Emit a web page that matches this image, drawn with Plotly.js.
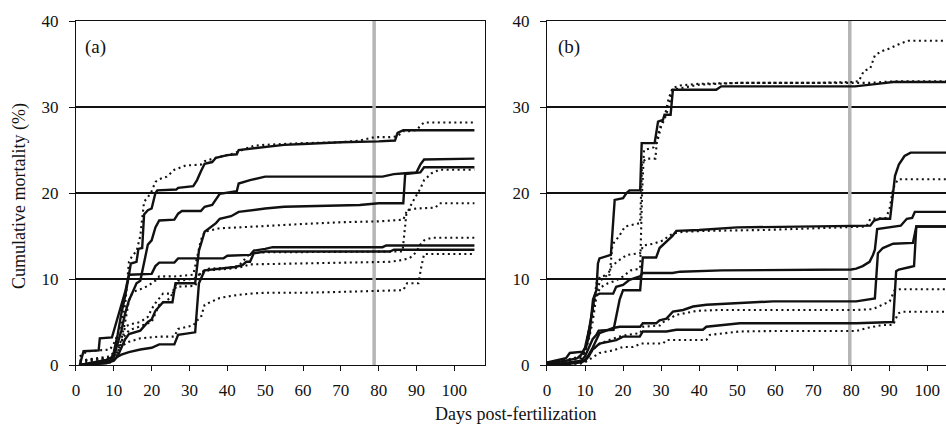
<!DOCTYPE html>
<html>
<head>
<meta charset="utf-8">
<script src="https://cdn.plot.ly/plotly-3.0.1.min.js"></script>
<style>html,body{margin:0;padding:0;background:#fff;}#chart{width:946px;height:426px;}</style>
</head>
<body>
<div id="chart"></div>
<script>
// ---------- Panel (a) ----------
var a_s1_day = [1, 2, 6, 6.3, 9.5, 10, 11, 12, 13, 14, 14.5, 16, 16.5, 17.5, 18, 19, 20, 21, 21.5, 26.5, 27, 31, 32, 33, 34, 36, 37, 40, 42.5, 43, 47, 50, 55, 60, 70, 80, 84.3, 85, 86.5, 105.3];
var a_s1_val = [0, 1.6, 1.7, 3.1, 3.2, 4.0, 5.5, 7.0, 8.5, 10.5, 11.8, 12.0, 13.5, 13.6, 17.5, 18.0, 18.2, 20.0, 20.3, 20.4, 20.6, 20.8, 21.5, 22.5, 23.4, 23.6, 24.1, 24.4, 24.5, 25.0, 25.2, 25.4, 25.6, 25.7, 25.9, 26.0, 26.1, 27.0, 27.3, 27.3];
var a_s2_day = [1, 5, 8, 10, 11, 12, 13, 14, 15, 16, 17, 18, 19, 20, 21, 22, 26, 27, 28, 33, 34, 36, 37, 38, 42.5, 43, 46, 50, 81, 84, 87, 90, 91, 92, 105.3];
var a_s2_val = [0, 0.3, 0.6, 1.0, 2.5, 4.0, 6.0, 7.5, 8.5, 9.5, 9.8, 12.0, 14.0, 14.5, 16.0, 16.8, 16.9, 17.6, 17.9, 17.9, 18.4, 18.6, 19.3, 19.9, 20.2, 21.1, 21.5, 21.9, 21.9, 22.2, 22.3, 22.4, 23.3, 23.9, 24.0];
var a_s3_day = [1, 8, 10, 11, 12, 13, 14, 17, 19, 20, 21, 22, 23, 25.5, 26.3, 31.5, 32.5, 34, 35, 37, 38, 41, 43, 46, 50, 55, 65, 75, 80, 86.5, 87, 91, 92, 105.3];
var a_s3_val = [0, 0.2, 0.5, 1.0, 2.0, 3.0, 3.6, 4.0, 5.0, 5.3, 6.3, 6.8, 7.3, 7.3, 9.5, 9.5, 13.3, 15.5, 15.8, 16.5, 17.0, 17.3, 17.8, 18.0, 18.2, 18.4, 18.5, 18.6, 18.8, 18.8, 22.2, 22.4, 23.0, 23.0];
var a_s4_day = [1, 9, 10, 11, 12, 13, 14, 20, 21, 22, 26, 27, 39, 40, 46, 47, 50, 52, 81, 82, 105.3];
var a_s4_val = [0, 0.3, 1.5, 3.5, 6.0, 8.0, 10.5, 10.6, 11.5, 11.9, 11.9, 12.4, 12.4, 12.7, 12.8, 13.3, 13.5, 13.7, 13.7, 13.9, 13.9];
var a_s5_day = [1, 5, 9, 11, 12, 14, 17, 20, 22, 26, 27, 31.5, 32.5, 34, 38, 42, 44, 45, 46, 47, 50, 83, 84, 105.3];
var a_s5_val = [0, 0.2, 0.5, 1.0, 1.2, 1.5, 1.8, 2.0, 2.4, 2.4, 3.5, 3.8, 9.5, 11.0, 11.2, 11.4, 11.6, 12.0, 12.0, 13.0, 13.2, 13.2, 13.4, 13.4];
var a_d1_day = [1, 2, 3, 9, 10, 11, 12, 13, 14, 15, 16, 17, 18, 19, 20, 21, 22, 24, 26, 29, 33, 34, 37, 41, 44, 47, 50, 60, 70, 75, 79, 83, 85, 86.5, 88, 90, 91, 92, 105.3];
var a_d1_val = [1.0, 1.3, 1.6, 1.8, 2.5, 3.5, 5.0, 7.0, 12.0, 12.8, 13.2, 15.0, 19.0, 19.5, 20.2, 21.3, 21.6, 21.9, 22.7, 23.2, 23.3, 23.7, 24.1, 24.5, 25.0, 25.5, 25.6, 25.8, 25.9, 26.1, 26.5, 26.5, 26.6, 27.2, 27.2, 27.3, 27.8, 28.2, 28.2];
var a_d2_day = [1, 9, 11, 12, 13, 14, 15, 17, 19, 21, 22, 26, 31, 32, 33, 34, 36, 38, 43, 50, 60, 70, 80, 86.5, 87.5, 90, 95, 96, 105.3];
var a_d2_val = [0.5, 0.8, 1.5, 3.0, 5.0, 7.5, 8.5, 8.8, 9.2, 9.8, 10.3, 10.3, 10.5, 12.5, 14.5, 15.5, 15.7, 15.9, 16.0, 16.2, 16.4, 16.6, 16.7, 16.9, 18.0, 18.2, 18.3, 18.8, 18.8];
var a_d3_day = [1, 10, 12, 13, 15, 17, 19, 20, 21, 23, 25.5, 26.5, 31.5, 33, 35, 40, 43, 44, 46, 50, 86.3, 87.3, 88, 89, 91, 92, 94, 96, 105.3];
var a_d3_val = [0.3, 0.6, 2.5, 4.5, 4.8, 5.0, 5.6, 6.5, 7.2, 8.3, 8.3, 9.1, 9.2, 10.8, 11.2, 11.3, 11.5, 12.0, 13.0, 13.1, 13.2, 17.5, 18.2, 19.0, 20.5, 21.5, 22.3, 22.7, 22.7];
var a_d4_day = [1, 9, 11, 12, 13, 14, 15, 17, 20, 21, 22, 25, 26, 27, 31, 32, 33, 35, 40, 43, 46, 60, 80, 83, 86, 88, 89, 90, 91, 92, 94, 105.3];
var a_d4_val = [0.5, 1.0, 2.0, 2.8, 3.5, 4.0, 4.2, 4.5, 5.0, 6.0, 7.0, 7.8, 9.0, 9.8, 10.0, 10.2, 10.8, 11.0, 11.2, 11.3, 11.7, 11.8, 11.9, 12.0, 12.2, 12.4, 12.7, 13.2, 14.0, 14.5, 14.8, 14.8];
var a_d5_day = [1, 9, 11, 13, 14, 17, 22, 26, 27, 31, 32, 33, 34, 36, 38, 42, 46, 50, 60, 70, 80, 86.5, 87.5, 90.5, 91.3, 92, 105.3];
var a_d5_val = [0.5, 0.8, 1.5, 2.5, 2.7, 3.1, 3.3, 3.3, 4.2, 4.6, 5.2, 5.5, 7.0, 7.4, 7.8, 8.1, 8.3, 8.4, 8.4, 8.5, 8.6, 8.7, 9.5, 9.5, 11.5, 12.9, 12.9];

// ---------- Panel (b) ----------
var b_s1_day = [0, 1, 5, 6, 9.5, 10.3, 11.2, 12.1, 13, 13.4, 13.8, 16.8, 17.4, 17.8, 20, 20.9, 21.7, 24.5, 24.9, 28.3, 29.2, 30.5, 30.9, 32.5, 33.1, 44.5, 45.8, 60, 81, 88, 91, 105];
var b_s1_val = [0.3, 0.4, 0.8, 1.4, 1.55, 2.1, 3.7, 7.6, 8.7, 11.8, 12.4, 12.8, 16.1, 19.2, 19.4, 20.0, 20.3, 20.3, 25.8, 25.8, 28.3, 28.5, 29.1, 29.1, 32.0, 32.0, 32.4, 32.4, 32.4, 32.75, 32.9, 32.9];
var b_s2_day = [0, 5, 9, 10, 11, 12, 13, 13.6, 17.5, 18.2, 19.1, 20, 24.5, 25.2, 28.7, 29.6, 31.4, 33, 34, 40, 50, 80, 85, 86, 87.5, 90.2, 91, 91.5, 92.5, 94, 95.6, 105];
var b_s2_val = [0, 0.2, 0.5, 1.0, 2.0, 3.0, 3.5, 4.0, 4.1, 5.6, 7.6, 8.7, 8.7, 12.5, 12.5, 13.6, 14.3, 15.0, 15.6, 15.7, 16.0, 16.1, 16.2, 16.8, 17.0, 17.0, 20.5, 22.0, 23.3, 24.3, 24.7, 24.7];
var b_s3_day = [0, 5, 8, 9, 10, 11, 12, 12.5, 13.8, 17.4, 18.2, 20, 21.7, 24.4, 25.2, 33, 35, 46, 80, 81.3, 83, 84.8, 85.7, 86.2, 86.8, 90, 93, 94.6, 96, 96.7, 105];
var b_s3_val = [0.2, 0.5, 0.8, 1.2, 2.0, 4.0, 6.5, 8.0, 8.3, 8.3, 9.1, 9.3, 9.9, 10.3, 10.7, 10.7, 10.85, 11.0, 11.1, 11.2, 11.5, 12.0, 12.8, 13.4, 15.8, 16.0, 16.2, 17.0, 17.1, 17.8, 17.8];
var b_s4_day = [0, 5, 9, 10, 11, 12, 13, 13.8, 17.4, 19.1, 24.5, 25.2, 28.7, 29.6, 31.4, 32.3, 33.1, 35.8, 38.4, 41.9, 50.7, 59.4, 81.3, 84, 86.2, 87, 88.3, 91, 96.2, 97.1, 105];
var b_s4_val = [0, 0.2, 0.4, 0.6, 1.2, 2.0, 3.0, 3.7, 4.3, 4.45, 4.45, 4.85, 4.85, 5.2, 5.4, 5.8, 6.2, 6.4, 6.8, 7.0, 7.2, 7.4, 7.4, 7.6, 7.75, 13.0, 13.6, 14.1, 14.2, 16.1, 16.1];
var b_s5_day = [0, 5, 9, 10, 11, 12, 13.8, 18.2, 20, 24.4, 25.2, 31.4, 34, 41, 41.9, 46.3, 50.7, 81.3, 91, 91.8, 92.5, 95.5, 96.5, 97.1, 105];
var b_s5_val = [0, 0.1, 0.3, 0.5, 1.0, 1.8, 2.5, 2.9, 3.3, 3.3, 3.9, 3.9, 4.1, 4.1, 4.45, 4.65, 4.85, 4.85, 5.0, 10.9, 11.1, 11.4, 11.5, 16.1, 16.1];
var b_d1_day = [0, 5, 9, 10, 11, 12, 13, 14, 16.5, 17.2, 19, 20.5, 22.5, 24.5, 25, 26, 28.5, 29, 30, 31, 32, 33, 35, 40, 50, 70, 80, 82, 83.3, 85, 86.2, 88, 90, 93, 95, 105];
var b_d1_val = [0.3, 0.6, 1.0, 1.5, 4.0, 6.0, 9.5, 10.3, 10.5, 14.0, 15.0, 16.1, 16.3, 16.5, 23.5, 24.0, 24.0, 26.5, 28.0, 29.0, 31.0, 32.2, 32.5, 32.7, 32.8, 32.8, 32.9, 33.0, 34.2, 34.5, 36.0, 36.5, 36.8, 37.4, 37.7, 37.7];
var b_d2_day = [0, 5, 9, 10, 11, 12, 13, 14, 16, 18, 20, 22, 24.5, 25, 25.5, 28, 29, 30, 31, 32, 33, 40, 50, 80, 85, 88, 92, 105];
var b_d2_val = [0.2, 0.5, 0.8, 1.5, 3.0, 5.0, 8.0, 9.0, 9.5, 9.8, 10.3, 11.0, 11.2, 20.0, 25.0, 25.3, 26.0, 27.7, 28.7, 30.0, 32.0, 32.6, 32.8, 32.8, 32.8, 32.9, 33.0, 33.0];
var b_d3_day = [0, 5, 9, 10, 11, 12, 13, 14, 16, 17, 19, 21, 24.5, 25.3, 28, 30.6, 32, 33.2, 35.9, 42, 57, 80, 84, 85, 89, 90, 91, 91.5, 92.3, 105];
var b_d3_val = [0.2, 0.4, 0.8, 2.0, 4.0, 6.0, 8.5, 9.8, 10.5, 11.5, 12.2, 12.8, 13.0, 13.9, 14.1, 14.5, 15.0, 15.3, 15.5, 15.6, 15.7, 16.0, 16.1, 17.0, 17.1, 18.0, 20.5, 21.0, 21.6, 21.6];
var b_d4_day = [0, 5, 9, 10, 11, 12, 14, 17, 19, 21, 24.5, 25.3, 29.7, 30.6, 32.4, 33.7, 35.9, 39.4, 45.5, 81.3, 85.7, 88.3, 90.1, 91.4, 92.7, 105];
var b_d4_val = [0, 0.1, 0.2, 0.4, 1.0, 1.8, 2.5, 3.0, 3.3, 3.5, 3.7, 4.45, 4.6, 5.0, 5.4, 5.8, 6.0, 6.3, 6.4, 6.4, 6.5, 7.0, 7.4, 8.7, 8.8, 8.8];
var b_d5_day = [0, 5, 9, 10.3, 13.8, 17.4, 20, 22.6, 24.8, 27, 30.5, 31.4, 34.9, 41.9, 42.8, 46.3, 50.7, 59.4, 81.3, 84, 88.3, 91, 91.6, 92.3, 93.5, 105];
var b_d5_val = [0, 0.1, 0.2, 0.4, 1.4, 1.7, 2.1, 2.1, 2.5, 2.5, 2.5, 2.9, 2.9, 2.9, 3.5, 3.7, 3.9, 3.95, 3.95, 4.3, 4.65, 4.65, 5.2, 6.0, 6.2, 6.2];

var xTicks = [0, 10, 20, 30, 40, 50, 60, 70, 80, 90, 100];
var yTicks = [0, 10, 20, 30, 40];
var markerDay = [78.8, 79.6];   // grey vertical reference line, panels (a) and (b)
var panelLabels = ['(a)', '(b)'];
var xTitle = 'Days post-fertilization';
var yTitle = 'Cumulative mortality (%)';

var serif = "'Liberation Serif', 'Times New Roman', serif";
var ink = '#111111';

function solid(x, y, ax) {
  return {x: x, y: y, xaxis: ax[0], yaxis: ax[1], mode: 'lines', type: 'scatter',
          line: {color: ink, width: 2.4}, hoverinfo: 'skip', showlegend: false};
}
function dotted(x, y, ax) {
  return {x: x, y: y, xaxis: ax[0], yaxis: ax[1], mode: 'lines', type: 'scatter',
          line: {color: ink, width: 2.1, dash: '2px,3.5px'}, hoverinfo: 'skip', showlegend: false};
}
function refLine(day, ax) {
  return {x: [day, day], y: [0, 40], xaxis: ax[0], yaxis: ax[1], mode: 'lines', type: 'scatter',
          line: {color: '#b5b5b5', width: 3.5}, hoverinfo: 'skip', showlegend: false};
}
var A = ['x', 'y'], B = ['x2', 'y2'];
var traces = [
  refLine(markerDay[0], A), refLine(markerDay[1], B),
  dotted(a_d1_day, a_d1_val, A), dotted(a_d2_day, a_d2_val, A), dotted(a_d3_day, a_d3_val, A),
  dotted(a_d4_day, a_d4_val, A), dotted(a_d5_day, a_d5_val, A),
  solid(a_s1_day, a_s1_val, A), solid(a_s2_day, a_s2_val, A), solid(a_s3_day, a_s3_val, A),
  solid(a_s4_day, a_s4_val, A), solid(a_s5_day, a_s5_val, A),
  dotted(b_d1_day, b_d1_val, B), dotted(b_d2_day, b_d2_val, B), dotted(b_d3_day, b_d3_val, B),
  dotted(b_d4_day, b_d4_val, B), dotted(b_d5_day, b_d5_val, B),
  solid(b_s1_day, b_s1_val, B), solid(b_s2_day, b_s2_val, B), solid(b_s3_day, b_s3_val, B),
  solid(b_s4_day, b_s4_val, B), solid(b_s5_day, b_s5_val, B)
];

var tickFont = {family: serif, size: 17, color: ink};
function xax(domain, range) {
  return {domain: domain, range: range, tickvals: xTicks, ticktext: xTicks.map(String),
          ticks: 'outside', ticklen: 5, tickwidth: 1, tickcolor: ink, ticklabelstandoff: 5,
          showline: true, linecolor: ink, linewidth: 1, mirror: true,
          showgrid: false, zeroline: false, tickfont: tickFont, fixedrange: true};
}
function yax(anchor, mirror) {
  return {domain: [0.1432, 0.9507], range: [0, 40], anchor: anchor, tickvals: yTicks,
          ticktext: yTicks.map(String), ticks: 'outside', ticklen: 6, tickwidth: 1, tickcolor: ink,
          ticklabelstandoff: 7,
          showline: true, linecolor: ink, linewidth: 1, mirror: mirror,
          showgrid: true, gridcolor: ink, gridwidth: 1.2, zeroline: false,
          tickfont: tickFont, fixedrange: true};
}

var layout = {
  width: 946, height: 426,
  margin: {l: 0, r: 0, t: 0, b: 0},
  paper_bgcolor: '#ffffff', plot_bgcolor: '#ffffff',
  showlegend: false,
  xaxis: xax([0.0803, 0.5127], [0, 108.1]),
  xaxis2: Object.assign(xax([0.5782, 1.0], [0, 104.9]), {anchor: 'y2'}),
  yaxis: yax('x', true),
  yaxis2: yax('x2', false),
  annotations: [
    {text: panelLabels[0], xref: 'paper', yref: 'paper', x: 0.0877, y: 0.8897, xanchor: 'left', yanchor: 'middle',
     showarrow: false, font: {family: serif, size: 19, color: ink}},
    {text: panelLabels[1], xref: 'paper', yref: 'paper', x: 0.588, y: 0.8897, xanchor: 'left', yanchor: 'middle',
     showarrow: false, font: {family: serif, size: 19, color: ink}},
    {text: yTitle, xref: 'paper', yref: 'paper', x: 0.0211, y: 0.54, xanchor: 'center', yanchor: 'middle',
     textangle: -90, showarrow: false, font: {family: serif, size: 18, color: ink}},
    {text: xTitle, xref: 'paper', yref: 'paper', x: 0.5444, y: 0.028, xanchor: 'center', yanchor: 'middle',
     showarrow: false, font: {family: serif, size: 18, color: ink}}
  ]
};

Plotly.newPlot('chart', traces, layout, {displayModeBar: false, staticPlot: true});
</script>
</body>
</html>
